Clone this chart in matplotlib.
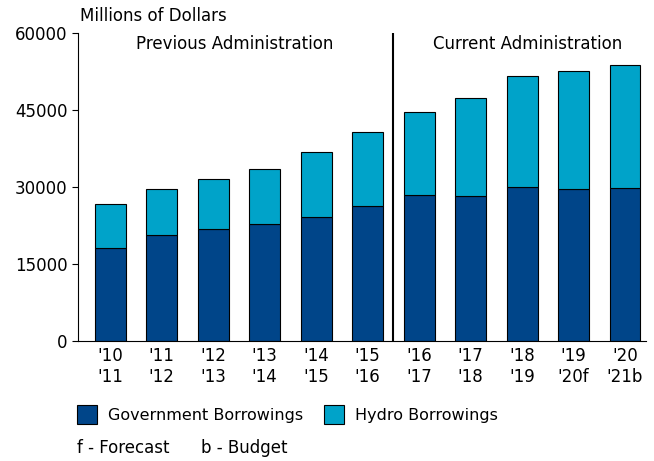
import numpy as np
import matplotlib.pyplot as plt

plt.rcParams['font.family'] = ['DejaVu Sans']

# fiscal years (two-line labels) and borrowings, millions of dollars
years = ["'10\n'11", "'11\n'12", "'12\n'13", "'13\n'14", "'14\n'15", "'15\n'16",
         "'16\n'17", "'17\n'18", "'18\n'19", "'19\n'20f", "'20\n'21b"]
government = [18200, 20600, 21800, 22900, 24200, 26400, 28400, 28300, 30000, 29700, 29900]
totals = [26700, 29700, 31500, 33500, 36800, 40800, 44700, 47400, 51600, 52600, 53800]
hydro = [t - g for t, g in zip(totals, government)]

dark = '#004589'
light = '#00a3c9'

fig = plt.figure(figsize=(6.54, 4.61), dpi=100)
ax = fig.add_axes([0.119, 0.26, 0.869, 0.668])

x = np.arange(len(years))
ax.bar(x, government, width=0.6, color=dark, edgecolor='black', linewidth=0.8,
       label='Government Borrowings')
ax.bar(x, hydro, width=0.6, bottom=government, color=light, edgecolor='black',
       linewidth=0.8, label='Hydro Borrowings')

ax.axvline(5.5, color='black', linewidth=1.5)

ax.set_xlim(-0.63, 10.41)
ax.set_ylim(0, 60000)
ax.set_yticks([0, 15000, 30000, 45000, 60000])
ax.set_xticks(x)
ax.set_xticklabels(years, fontsize=12, linespacing=1.25)
ax.tick_params(axis='x', length=0, pad=4)
ax.tick_params(axis='y', labelsize=12, length=4, direction='out')
for side in ['top', 'right']:
    ax.spines[side].set_visible(False)

ax.text(2.42, 57800, 'Previous Administration', ha='center', va='center', fontsize=12)
ax.text(8.1, 57800, 'Current Administration', ha='center', va='center', fontsize=12)
fig.text(0.123, 0.965, 'Millions of Dollars', ha='left', va='center', fontsize=12)

fig.legend(loc='lower left', bbox_to_anchor=(0.118, 0.081), ncol=2, frameon=False,
           fontsize=11.5, handlelength=1.25, handleheight=1.4, columnspacing=1.3,
           handletextpad=0.7, borderpad=0, borderaxespad=0)
fig.text(0.118, 0.028, 'f - Forecast      b - Budget', ha='left', va='center', fontsize=12)

fig.savefig('out.png', dpi=100)
